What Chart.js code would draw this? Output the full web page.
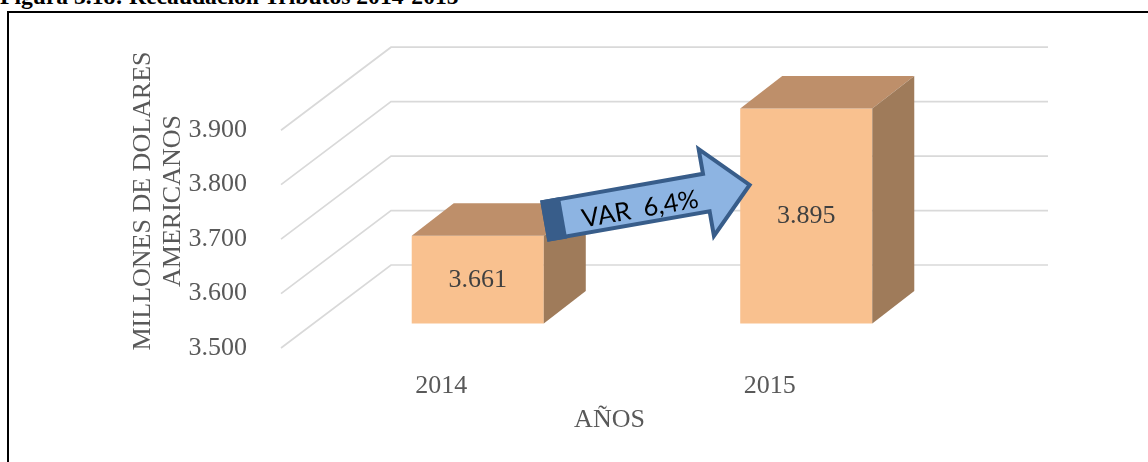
<!DOCTYPE html>
<html>
<head>
<meta charset="utf-8">
<title>Recaudación Tributos 2014-2015</title>
<script src="https://cdn.jsdelivr.net/npm/chart.js@4.4.1/dist/chart.umd.min.js"></script>
<style>
	html, body { margin: 0; padding: 0; background: #fff; overflow: hidden; }
	#caption {
		position: absolute; left: 0; top: -15px;
		font: bold 23.6px/23px "Times New Roman", "Liberation Serif", serif;
		color: #000; white-space: nowrap;
	}
	#frame {
		position: absolute; left: 7px; top: 11px; width: 1200px; height: 500px;
		border-left: 2px solid #000; border-top: 2px solid #000;
	}
	#chart { position: absolute; left: 0; top: 0; }
</style>
</head>
<body>
<div id="caption">Figura 3.18: Recaudación Tributos 2014-2015</div>
<div id="frame"></div>
<canvas id="chart" width="1148" height="462"></canvas>
<script>
const years = ["2014", "2015"];
const recaudacion = [3661, 3895];
const yTicks = [3500, 3600, 3700, 3800, 3900];

const SERIF = "'Times New Roman', 'Liberation Serif', serif";
const FRONT = "#F9C18F";
const TOP = "#BE8F6A";
const SIDE = "#9F7B5A";

// perspective offsets: back wall and bar plane relative to the floor front edge
const WALL_DX = 110, WALL_DY = 83;
const BAR_DX = 32.5, BAR_DY = 24.5;
const DEPTH_DX = 42, DEPTH_DY = 32.5;

const fmt = (v) => String(v).replace(/\B(?=(\d{3})+(?!\d))/g, ".");

const variacion = ((recaudacion[1] / recaudacion[0] - 1) * 100).toFixed(1).replace(".", ",");

const bars3d = {
	id: "bars3d",
	beforeDatasetsDraw(chart) {
		const { ctx, chartArea, scales } = chart;
		ctx.save();
		ctx.strokeStyle = "#D9D9D9";
		ctx.lineWidth = 1.7;
		yTicks.forEach((v) => {
			const y = scales.y.getPixelForValue(v);
			ctx.beginPath();
			ctx.moveTo(chartArea.left, y);
			ctx.lineTo(chartArea.left + WALL_DX, y - WALL_DY);
			ctx.lineTo(chartArea.right + WALL_DX, y - WALL_DY);
			ctx.stroke();
		});
		ctx.restore();
	},
	beforeDatasetDraw(chart) {
		chart.ctx.save();
		chart.ctx.translate(BAR_DX, -BAR_DY);
	},
	afterDatasetDraw(chart, args) {
		const ctx = chart.ctx;
		args.meta.data.forEach((bar, i) => {
			const l = bar.x - bar.width / 2;
			const r = bar.x + bar.width / 2;
			ctx.fillStyle = TOP;
			ctx.beginPath();
			ctx.moveTo(l, bar.y);
			ctx.lineTo(l + DEPTH_DX, bar.y - DEPTH_DY);
			ctx.lineTo(r + DEPTH_DX, bar.y - DEPTH_DY);
			ctx.lineTo(r, bar.y);
			ctx.closePath();
			ctx.fill();
			ctx.fillStyle = SIDE;
			ctx.beginPath();
			ctx.moveTo(r, bar.y);
			ctx.lineTo(r + DEPTH_DX, bar.y - DEPTH_DY);
			ctx.lineTo(r + DEPTH_DX, bar.base - DEPTH_DY);
			ctx.lineTo(r, bar.base);
			ctx.closePath();
			ctx.fill();

			ctx.fillStyle = "#404040";
			ctx.font = "26px " + SERIF;
			ctx.textAlign = "center";
			ctx.textBaseline = "middle";
			ctx.fillText(fmt(recaudacion[i]), bar.x, (bar.y + bar.base) / 2);
		});
		ctx.restore();
	},
	afterDatasetsDraw(chart) {
		// block arrow from the 2014 bar towards the 2015 bar
		const ctx = chart.ctx;
		const first = chart.getDatasetMeta(0).data[0];
		const cx = first.x + first.width / 2 + BAR_DX + 2;
		const cy = first.y - BAR_DY - 15;
		ctx.save();
		ctx.translate(cx, cy);
		ctx.rotate(-10 * Math.PI / 180);
		ctx.beginPath();
		ctx.moveTo(0, -19);
		ctx.lineTo(163, -19);
		ctx.lineTo(163, -44);
		ctx.lineTo(207, 0);
		ctx.lineTo(163, 44);
		ctx.lineTo(163, 19);
		ctx.lineTo(0, 19);
		ctx.closePath();
		ctx.fillStyle = "#8DB4E2";
		ctx.fill();
		ctx.lineWidth = 4;
		ctx.lineJoin = "miter";
		ctx.strokeStyle = "#385D8A";
		ctx.stroke();
		ctx.fillStyle = "#385D8A";
		ctx.fillRect(-2, -21, 20, 42);

		ctx.fillStyle = "#000";
		ctx.font = "25.5px Lato, 'Open Sans', sans-serif";
		ctx.textAlign = "center";
		ctx.textBaseline = "middle";
		ctx.fillText("VAR  " + variacion + "%", 95, 5);
		ctx.restore();
	},
};

const ctx = document.getElementById("chart");

new Chart(ctx, {
	type: "bar",
	data: {
		labels: years,
		datasets: [
			{
				data: recaudacion,
				base: 3500,
				backgroundColor: FRONT,
				borderWidth: 0,
				categoryPercentage: 1,
				barPercentage: 0.402,
				clip: false,
			},
		],
	},
	options: {
		responsive: false,
		animation: false,
		devicePixelRatio: 1,
		layout: { padding: { left: 113, right: 210, top: 54, bottom: 0 } },
		plugins: {
			legend: { display: false },
			tooltip: { enabled: false },
		},
		scales: {
			x: {
				grid: { display: false },
				border: { display: false },
				ticks: {
					color: "#595959",
					font: { family: SERIF, size: 26 },
					padding: 15,
					labelOffset: -4,
				},
				title: {
					display: true,
					text: "AÑOS",
					color: "#595959",
					font: { family: SERIF, size: 26 },
					padding: { top: 0, bottom: 26 },
				},
				afterFit: (s) => {
					s.height = 114;
				},
			},
			y: {
				min: 3500,
				max: 4040,
				grid: { display: false },
				border: { display: false },
				afterBuildTicks: (s) => {
					s.ticks = yTicks.map((value) => ({ value }));
				},
				ticks: {
					color: "#595959",
					font: { family: SERIF, size: 26 },
					padding: 26,
					callback: (v) => fmt(v),
				},
				title: {
					display: true,
					text: ["MILLONES DE DOLARES", "AMERICANOS"],
					color: "#595959",
					font: { family: SERIF, size: 26, lineHeight: 1.15 },
					padding: { top: 15, bottom: 0 },
				},
				afterFit: (s) => {
					s.width = 168;
				},
			},
		},
	},
	plugins: [bars3d],
});
</script>
</body>
</html>
